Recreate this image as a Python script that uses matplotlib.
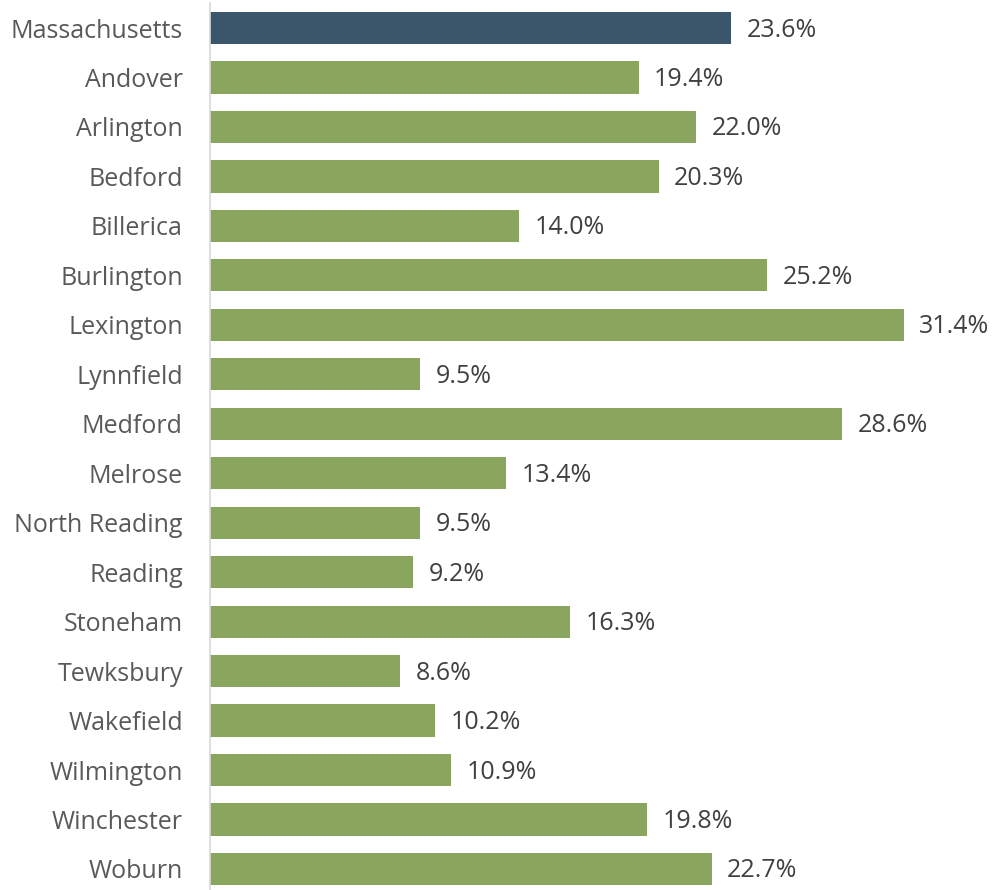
import matplotlib
matplotlib.use("Agg")
import matplotlib.pyplot as plt

towns = ["Massachusetts", "Andover", "Arlington", "Bedford", "Billerica", "Burlington",
         "Lexington", "Lynnfield", "Medford", "Melrose", "North Reading", "Reading",
         "Stoneham", "Tewksbury", "Wakefield", "Wilmington", "Winchester", "Woburn"]
pct = [23.6, 19.4, 22.0, 20.3, 14.0, 25.2, 31.4, 9.5, 28.6, 13.4, 9.5, 9.2,
       16.3, 8.6, 10.2, 10.9, 19.8, 22.7]

plt.rcParams['font.family'] = ['Open Sans', 'DejaVu Sans']

fig = plt.figure(figsize=(9.95, 8.9), dpi=100)
ax = fig.add_axes([0.211, 0.0, 0.784, (890 - 3.3) / 890])

colors = ['#3B566B'] + ['#8AA65E'] * (len(towns) - 1)
pos = list(range(len(towns)))
ax.barh(pos, pct, height=0.65, color=colors)

# value labels sit just right of each bar
for y, v in zip(pos, pct):
    ax.text(v + 0.7, y + 0.04, f"{v:.1f}%", va='center', ha='left',
            fontsize=18, color='#404040')

ax.set_xlim(0, 35.3)
ax.set_ylim(17.425, -0.5)
ax.set_yticks(pos)
ax.set_yticklabels(towns, fontsize=18, color='#595959')
ax.tick_params(axis='y', length=0, pad=19.5)
ax.set_xticks([])
for s in ['top', 'right', 'bottom']:
    ax.spines[s].set_visible(False)
ax.spines['left'].set_color('#D9D9D9')
ax.spines['left'].set_linewidth(1.2)

fig.savefig("out.png", dpi=100)
